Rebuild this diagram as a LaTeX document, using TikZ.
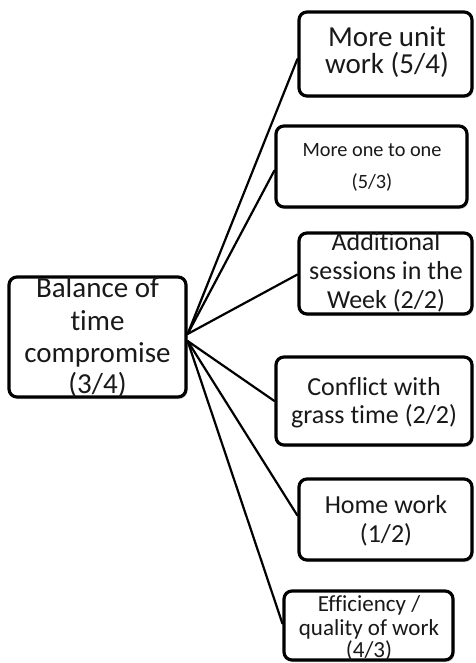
\documentclass[tikz,border=0pt]{standalone}
\usepackage{fontspec}
\setmainfont{Carlito}[RawFeature=-liga]
\usetikzlibrary{shadows,calc}
\pgfdeclarelayer{background}
\pgfsetlayers{background,main}
\tikzset{
  box/.style={draw=black, line width=3.2pt, rounded corners=8pt, fill=white,
    inner sep=0pt,
    drop shadow={shadow xshift=1.5pt, shadow yshift=-2pt, opacity=0.25, fill=black!70}},
  link/.style={line width=2.2pt, line cap=round},
  ln/.style={anchor=base, inner sep=0pt, text=black!90},
  fa/.style={font=\fontsize{29pt}{29pt}\selectfont},
  fb/.style={font=\fontsize{26pt}{26pt}\selectfont},
  fc/.style={font=\fontsize{23pt}{23pt}\selectfont},
  fd/.style={font=\fontsize{20.3pt}{20.3pt}\selectfont},
}
\begin{document}
\begin{tikzpicture}[x=1pt,y=-1pt]
\useasboundingbox (0,0) rectangle (475,663);

% boxes (text set line by line below)
\path
  (97.5,337)    node[box, minimum width=177pt, minimum height=120pt] (c)  {}
  (385.5,54)    node[box, minimum width=173pt, minimum height=84pt]  (b1) {}
  (371.5,166.5) node[box, minimum width=191pt, minimum height=81pt]  (b2) {}
  (385.5,273.5) node[box, minimum width=173pt, minimum height=81pt]  (b3) {}
  (374,401)     node[box, minimum width=196pt, minimum height=88pt]  (b4) {}
  (385.5,519.5) node[box, minimum width=173pt, minimum height=81pt]  (b5) {}
  (368.5,625.5) node[box, minimum width=169pt, minimum height=69pt]  (b6) {};

% fan of connectors from the central box, kept behind the boxes
\coordinate (up) at ($(c.east)+(0,-3)$);
\coordinate (dn) at ($(c.east)+(0,4)$);
\begin{pgfonlayer}{background}
  \draw[link] (up) -- ($(b1.west)+(0,5)$);
  \draw[link] (up) -- ($(b2.west)+(0,4)$);
  \draw[link] (up) -- ($(b3.west)+(0,1)$);
  \draw[link] (dn) -- (b4.west);
  \draw[link] (dn) -- ($(b5.west)+(0,-4)$);
  \draw[link] (dn) -- ($(b6.west)+(0,-2)$);
\end{pgfonlayer}

% central box text
\node[ln,fa] (c1) at (97.5,297) {Balance of};
\node[ln,fa] (c2) at (97.5,330) {time};
\node[ln,fa] (c3) at (97.5,362) {compromise};
\node[ln,fa] (c4) at (97.5,393) {(3/4)};

% branch texts
\node[ln,fa] (t11) at (387,47) {More unit};
\node[ln,fa] (t12) at (387,74) {work (5/4)};

\node[ln,fd] (t21) at (372,157) {More one to one};
\node[ln,fd] (t22) at (372,188) {(5/3)};

\node[ln,fb] (t31) at (386,250) {Additional};
\node[ln,fb] (t32) at (386,279) {sessions in the};
\node[ln,fb] (t33) at (386,308) {Week (2/2)};

\node[ln,fb] (t41) at (374,395) {Conflict with};
\node[ln,fb] (t42) at (374,423) {grass time (2/2)};

\node[ln,fb] (t51) at (386,513) {Home work};
\node[ln,fb] (t52) at (386,542) {(1/2)};

\node[ln,fc] (t61) at (369,611) {Efficiency /};
\node[ln,fc] (t62) at (369,635) {quality of work};
\node[ln,fc] (t63) at (369,657) {(4/3)};
\end{tikzpicture}
\end{document}
